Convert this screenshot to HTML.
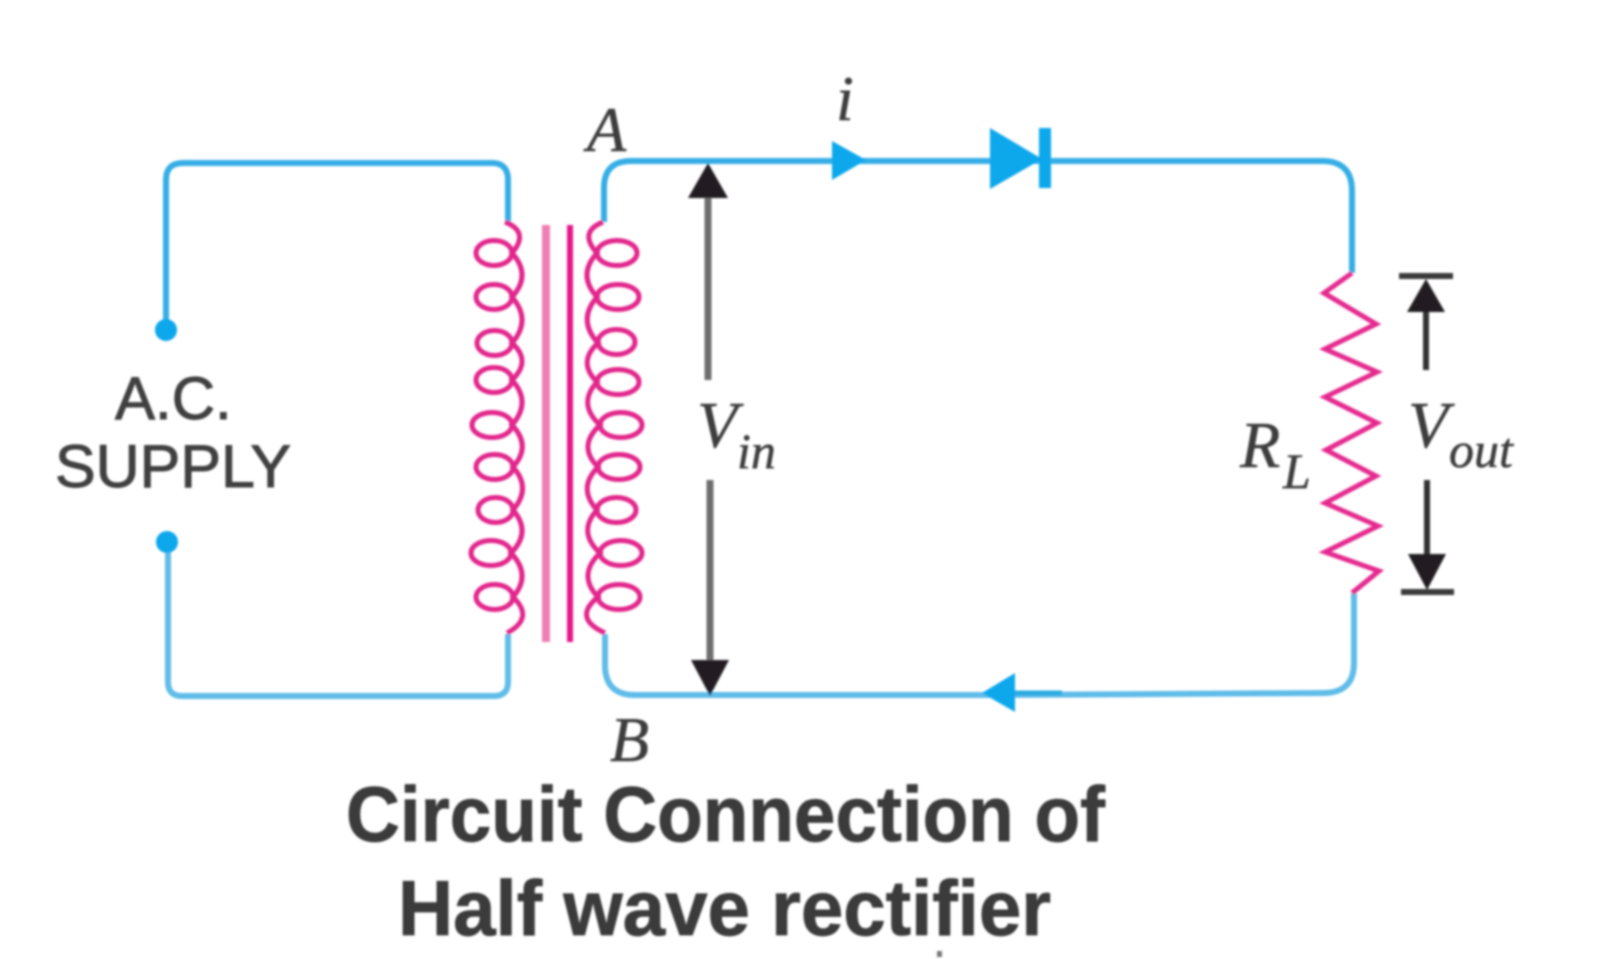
<!DOCTYPE html>
<html>
<head>
<meta charset="utf-8">
<style>
html,body{margin:0;padding:0;background:#fff;width:1600px;height:959px;overflow:hidden}
svg{display:block}
text{font-family:"Liberation Serif",serif;font-style:italic;fill:#3c3c3c;stroke:#3c3c3c;stroke-width:.5}
.s{font-family:"Liberation Sans",sans-serif;font-style:normal;fill:#3f3f3f;stroke:#3f3f3f;stroke-width:1}
.t{font-family:"Liberation Sans",sans-serif;font-style:normal;font-weight:700;fill:#3a3a3a;stroke:#3a3a3a;stroke-width:.8}
</style>
</head>
<body>
<svg width="1600" height="959" viewBox="0 0 1600 959" xmlns="http://www.w3.org/2000/svg">
<defs><filter id="b" x="-5%" y="-5%" width="110%" height="110%"><feGaussianBlur stdDeviation="1.1"/></filter></defs>
<rect width="1600" height="959" fill="#fff"/>
<g filter="url(#b)">
  <g fill="none" stroke="#35aee5" stroke-width="6">
    <path d="M166 330V180Q166 163 183 163H492Q507 163 508 178V222"/>
    <path d="M604 222V188Q604 161 631 161H1322Q1352 161 1352 191V273"/>
  </g>
  <g fill="none" stroke="#5fbce8" stroke-width="6">
    <path d="M168 542V682Q168 696 182 696H494Q508 696 508 682V634"/>
    <path d="M605 634V665Q605 695 635 695H1000L1323 693Q1354 693 1354 663V593"/>
  </g>
  <path d="M1015 693H1062" stroke="#29abe2" stroke-width="5" fill="none"/>
  <circle cx="166" cy="330" r="11" fill="#0aa7ec"/>
  <circle cx="167" cy="542" r="11" fill="#0aa7ec"/>
  <path d="M832 141L866 160L832 180Z" fill="#0aa7ec"/>
  <path d="M982 693L1015 673V712Z" fill="#0aa7ec"/>
  <path d="M990 128L1042 159L990 189Z" fill="#0aa7ec"/>
  <rect x="1039" y="128" width="12" height="60" fill="#0aa7ec"/>

  <path d="M546 225V642" stroke="#ee7fb4" stroke-width="8" fill="none"/>
  <path d="M570 225V642" stroke="#e6188c" stroke-width="6" fill="none"/>

  <g fill="none" stroke="#e2268c" stroke-width="5">
    <path d="M505 222Q530 232 512 253Q532 275 512 297Q532 320 512 343Q532 361 512 380Q532 402 512 425Q532 446 513 467Q532 488 513 510Q532 532 511 553Q532 575 513 597Q535 618 507 633"/>
    <ellipse cx="494" cy="253" rx="18" ry="12.500"/>
    <ellipse cx="494" cy="297" rx="18" ry="12.500"/>
    <ellipse cx="494.500" cy="343" rx="17.500" ry="12.500"/>
    <ellipse cx="494" cy="380" rx="18" ry="12.500"/>
    <ellipse cx="492" cy="425" rx="20" ry="12.500"/>
    <ellipse cx="494.500" cy="467" rx="18.500" ry="12.500"/>
    <ellipse cx="495.500" cy="510" rx="17.500" ry="12.500"/>
    <ellipse cx="491" cy="553" rx="20" ry="12.500"/>
    <ellipse cx="494.500" cy="597" rx="18.500" ry="12.500"/>
  </g>
  <g fill="none" stroke="#e2268c" stroke-width="5">
    <path d="M603 222Q578 232 597 253Q577 275 597 297Q577 320 598 343Q577 362 597 382Q577 404 600 425Q577 446 598 467Q577 488 597 510Q577 532 600 553Q577 575 598 597Q572 618 605 633"/>
    <ellipse cx="617" cy="253" rx="20" ry="12.500"/>
    <ellipse cx="618" cy="297" rx="21" ry="12.500"/>
    <ellipse cx="616.500" cy="342" rx="18.500" ry="12.500"/>
    <ellipse cx="618" cy="382" rx="21" ry="12.500"/>
    <ellipse cx="621" cy="425" rx="21" ry="12.500"/>
    <ellipse cx="619" cy="467" rx="21" ry="12.500"/>
    <ellipse cx="616.500" cy="510" rx="19.500" ry="12.500"/>
    <ellipse cx="621" cy="553" rx="21" ry="12.500"/>
    <ellipse cx="619" cy="597" rx="21" ry="12.500"/>
  </g>

  <polyline fill="none" stroke="#e5298f" stroke-width="5" points="1352,273 1324,293 1376,324 1325,349 1377,372 1325,397 1377,423 1326,450 1376,476 1325,503 1378,526 1325,552 1379,571 1352,593"/>

  <path d="M708 196V380" stroke="#6e6e6e" stroke-width="7" fill="none"/>
  <path d="M710 480V662" stroke="#6e6e6e" stroke-width="7" fill="none"/>
  <path d="M708 163L728 198H688Z" fill="#231f20"/>
  <path d="M710 696L691 660H729Z" fill="#231f20"/>

  <path d="M1399 276H1453" stroke="#3a3a3a" stroke-width="6" fill="none"/>
  <path d="M1401 592H1454" stroke="#3a3a3a" stroke-width="6" fill="none"/>
  <path d="M1431 310V370" stroke="#333" stroke-width="6" fill="none" transform="translate(-5 0)"/>
  <path d="M1427 480V556" stroke="#333" stroke-width="6" fill="none"/>
  <path d="M1426 279L1445 312H1407Z" fill="#231f20"/>
  <path d="M1427 590L1408 554H1446Z" fill="#231f20"/>
</g>

<g filter="url(#b)">
  <text x="587" y="151" font-size="64">A</text>
  <text x="610" y="761" font-size="64">B</text>
  <text x="836" y="120" font-size="64">i</text>
  <text x="697" y="447" font-size="66">V</text>
  <text x="737" y="468" font-size="50">in</text>
  <text x="1408" y="447" font-size="66">V</text>
  <text x="1449" y="467" font-size="50">out</text>
  <text x="1240" y="467" font-size="66">R</text>
  <text x="1283" y="488" font-size="50">L</text>
  <text class="s" x="115" y="419" font-size="60">A.C.</text>
  <text class="s" x="55" y="487" font-size="60" textLength="236" lengthAdjust="spacingAndGlyphs">SUPPLY</text>
  <text class="t" x="346" y="841" font-size="78" textLength="759" lengthAdjust="spacingAndGlyphs">Circuit Connection of</text>
  <text class="t" x="398" y="935" font-size="78" textLength="653" lengthAdjust="spacingAndGlyphs">Half wave rectifier</text>
  <rect x="937" y="951" width="5" height="6" fill="#777"/>
</g>
</svg>
</body>
</html>
